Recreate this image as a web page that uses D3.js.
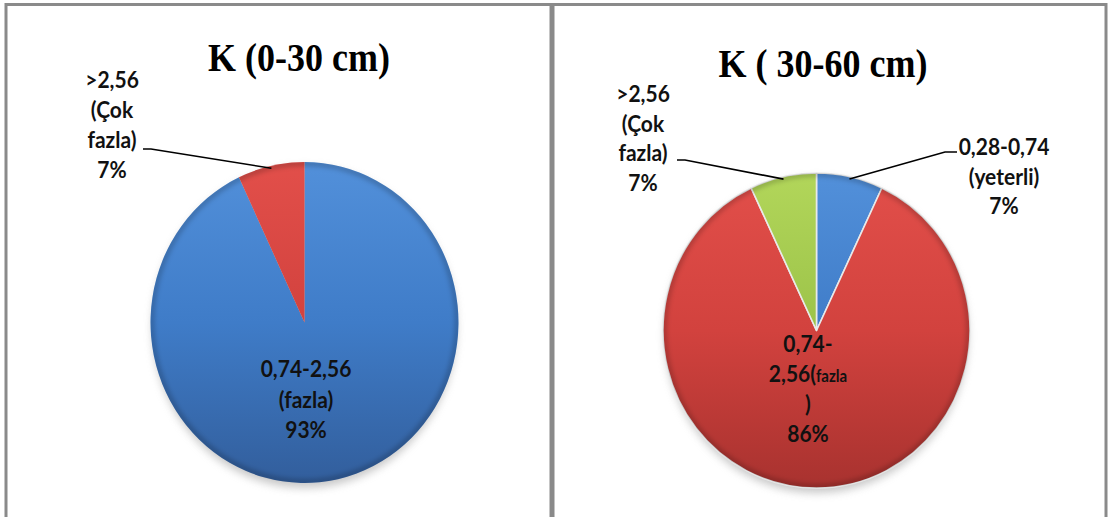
<!DOCTYPE html>
<html>
<head>
<meta charset="utf-8">
<script src="https://cdn.jsdelivr.net/npm/d3@7"></script>
<style>
  html, body { margin: 0; padding: 0; background: #ffffff; }
  svg { display: block; }
  .lbl { font-family: Lato, "Open Sans", sans-serif; font-weight: 700; font-size: 21px; fill: #111; }
  .ttl { font-family: "Liberation Serif", "Times New Roman", serif; font-weight: 700; font-size: 36px; fill: #000; }
</style>
</head>
<body>
<svg id="chart" width="1111" height="517"></svg>
<script>
// K content by soil depth, share of samples per class
const titles = ["K (0-30 cm)", "K ( 30-60 cm)"];

const categoriesTop = ["0,74-2,56 (fazla)", ">2,56 (Çok fazla)"];
const valuesTop = [93, 7];

const categoriesSub = ["0,28-0,74 (yeterli)", "0,74-2,56 (fazla)", ">2,56 (Çok fazla)"];
const valuesSub = [7, 86, 7];

// label text, one array of lines per slice
const labelLinesTop = [
  [["0,74-2,56"], ["(fazla)"]],
  [[">2,56"], ["(Çok"], ["fazla)"]]
];
const labelLinesSub = [
  [["0,28-0,74"], ["(yeterli)"]],
  [["0,74-"], ["2,56(", "fazla"], [")"]],
  [[">2,56"], ["(Çok"], ["fazla)"]]
];

const palettes = {
  blue:  { light: "#5290da", mid: "#3f7cc8", dark: "#325e9c" },
  red:   { light: "#e24f4a", mid: "#d2423e", dark: "#a8322f" },
  green: { light: "#b2d65a", mid: "#9cc349", dark: "#7f9e36" }
};

const svg = d3.select("#chart");
const defs = svg.append("defs");

defs.append("filter").attr("id", "shadow").attr("x", "-20%").attr("y", "-20%").attr("width", "140%").attr("height", "140%")
  .append("feGaussianBlur").attr("stdDeviation", 4);
defs.append("filter").attr("id", "rimBlur").attr("x", "-20%").attr("y", "-20%").attr("width", "140%").attr("height", "140%")
  .append("feGaussianBlur").attr("stdDeviation", 2.5);

// panel frames
const panels = [
  { x: 6, w: 545, cx: 304.5, cy: 322.5, rx: 154, ry: 160.5, titleX: 299, titleY: 71, sliceStroke: "none" },
  { x: 553, w: 553, cx: 816.5, cy: 330.5, rx: 153.5, ry: 157.5, titleX: 823, titleY: 77, sliceStroke: "#e9e9e9" }
];

panels.forEach(p => {
  svg.append("rect")
    .attr("x", p.x).attr("y", 4.5).attr("width", p.w).attr("height", 540)
    .attr("fill", "none").attr("stroke", "#8a8a8a").attr("stroke-width", 3);
});

function gradientFor(id, pal, p) {
  const g = defs.append("linearGradient").attr("id", id)
    .attr("gradientUnits", "userSpaceOnUse")
    .attr("x1", 0).attr("y1", -p.rx).attr("x2", 0).attr("y2", p.rx);
  g.append("stop").attr("offset", "0%").attr("stop-color", pal.light);
  g.append("stop").attr("offset", "50%").attr("stop-color", pal.mid);
  g.append("stop").attr("offset", "100%").attr("stop-color", pal.dark);
  return `url(#${id})`;
}

function drawPie(p, idx, categories, values, colorKeys, labels, labelSpec) {
  const pie = d3.pie().sort(null).value(d => d);
  const arcs = pie(values);
  const arc = d3.arc().innerRadius(0).outerRadius(p.rx);
  const sy = p.ry / p.rx;

  // soft drop shadow under the pie
  svg.append("ellipse")
    .attr("cx", p.cx).attr("cy", p.cy + 5)
    .attr("rx", p.rx - 2).attr("ry", p.ry)
    .attr("fill", "#9a9a9a").attr("opacity", 0.55)
    .attr("filter", "url(#shadow)");

  const g = svg.append("g").attr("transform", `translate(${p.cx},${p.cy}) scale(1,${sy})`);

  g.selectAll("path.slice").data(arcs).join("path")
    .attr("class", "slice")
    .attr("d", arc)
    .attr("fill", (d, i) => gradientFor(`grad-${idx}-${i}`, palettes[colorKeys[i]], p))
    .attr("stroke", p.sliceStroke)
    .attr("stroke-width", 1.6)
    .attr("stroke-linejoin", "round");

  // darker bevel along the rim
  const clipId = `clip-${idx}`;
  defs.append("clipPath").attr("id", clipId).append("circle").attr("r", p.rx);
  g.append("circle").attr("r", p.rx - 1)
    .attr("fill", "none").attr("stroke", "#000").attr("stroke-opacity", 0.22)
    .attr("stroke-width", 5).attr("filter", "url(#rimBlur)")
    .attr("clip-path", `url(#${clipId})`);

  // labels and leader lines
  arcs.forEach((d, i) => {
    const spec = labelSpec[i];
    const pct = values[i] + "%";
    const lines = labels[i].concat([[pct]]);
    lines.forEach((parts, k) => {
      const t = svg.append("text").attr("class", "lbl").attr("text-anchor", "middle")
        .attr("transform", `translate(${spec.x},${spec.y + k * spec.lh}) scale(1,1.08)`);
      t.append("tspan").text(parts[0]);
      if (parts.length > 1) {
        t.append("tspan").attr("font-size", 15).text(parts[1]);
      }
    });
    if (spec.leader) {
      const mid = (d.startAngle + d.endAngle) / 2;
      const r = p.rx * 0.985;
      const ex = p.cx + r * Math.sin(mid);
      const ey = p.cy - r * Math.cos(mid) * sy;
      const [lx, ly] = spec.leader;
      svg.append("path")
        .attr("d", d3.line()([[lx, ly], [lx + spec.elbow, ly], [ex, ey]]))
        .attr("fill", "none").attr("stroke", "#000").attr("stroke-width", 1.6);
    }
  });
}

svg.selectAll("text.ttl").data(titles).join("text")
  .attr("class", "ttl")
  .attr("text-anchor", "middle")
  .attr("transform", (d, i) => `translate(${panels[i].titleX},${panels[i].titleY}) scale(1,1.12)`)
  .text(d => d);

drawPie(panels[0], 0, categoriesTop, valuesTop, ["blue", "red"], labelLinesTop, [
  { x: 306, y: 377, lh: 30.5 },
  { x: 112, y: 88, lh: 30, leader: [143, 149], elbow: 8 }
]);

drawPie(panels[1], 1, categoriesSub, valuesSub, ["blue", "red", "green"], labelLinesSub, [
  { x: 1004, y: 155, lh: 29.5, leader: [957, 152], elbow: -12 },
  { x: 808, y: 352, lh: 30 },
  { x: 643, y: 102, lh: 29.5, leader: [677, 160], elbow: 8 }
]);
</script>
</body>
</html>
